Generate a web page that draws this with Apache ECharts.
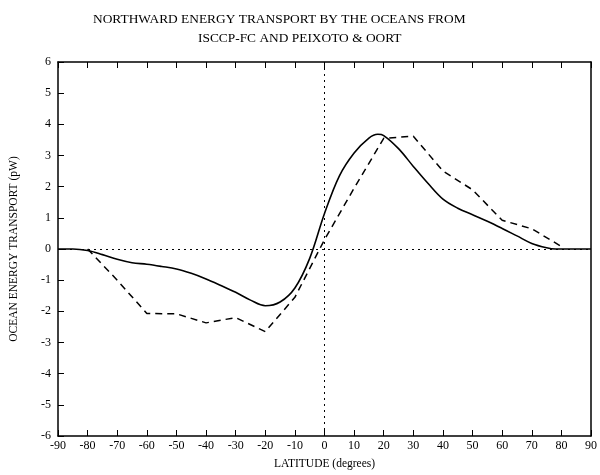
<!DOCTYPE html>
<html>
<head>
<meta charset="utf-8">
<script src="https://cdn.jsdelivr.net/npm/echarts@6/dist/echarts.min.js"></script>
<style>html,body{margin:0;padding:0;background:#fff}#c{width:600px;height:475px}</style>
</head>
<body>
<div id="c"></div>
<script>
// Data
var titleLine1 = 'NORTHWARD ENERGY TRANSPORT BY THE OCEANS FROM';
var titleLine2 = 'ISCCP-FC AND PEIXOTO & OORT';
var xName = 'LATITUDE (degrees)';
var yName = 'OCEAN ENERGY TRANSPORT (pW)';

// ISCCP-FC (solid)
var isccpLat = [-90, -85, -80, -75, -70, -65, -60, -55, -50, -45, -40, -35, -30, -25, -20, -15, -10, -5, 0, 5, 10, 15, 18, 20, 25, 30, 35, 40, 45, 50, 55, 60, 65, 70, 75, 78, 80, 85, 90];
var isccpVal = [0, 0, -0.05, -0.18, -0.33, -0.44, -0.49, -0.56, -0.64, -0.78, -0.96, -1.17, -1.39, -1.64, -1.82, -1.70, -1.25, -0.30, 1.14, 2.34, 3.08, 3.56, 3.68, 3.64, 3.22, 2.65, 2.10, 1.60, 1.31, 1.10, 0.89, 0.66, 0.42, 0.18, 0.04, 0, 0, 0, 0];

// Peixoto & Oort (dashed)
var poLat = [-80, -70, -60, -50, -40, -30, -20, -10, 0, 10, 20, 30, 40, 50, 60, 70, 80];
var poVal = [0, -1.0, -2.07, -2.08, -2.37, -2.2, -2.65, -1.55, 0.3, 1.95, 3.55, 3.62, 2.5, 1.9, 0.92, 0.65, 0.08];

function pairs(xs, ys) { return xs.map(function (x, i) { return [x, ys[i]]; }); }

var serif = '"Liberation Serif", "DejaVu Serif", serif';
var chart = echarts.init(document.getElementById('c'));
chart.setOption({
  animation: false,
  backgroundColor: '#fff',
  title: [
    { text: titleLine1, left: 88, top: 8, textStyle: { fontFamily: serif, fontWeight: 'normal', fontSize: 13.4, color: '#000' } },
    { text: titleLine2, left: 193, top: 27, textStyle: { fontFamily: serif, fontWeight: 'normal', fontSize: 13.4, color: '#000' } }
  ],
  grid: { left: 57, right: 3, top: 62, bottom: 34 },
  xAxis: [{
    type: 'value', min: -90, max: 90, interval: 10,
    name: xName, nameLocation: 'middle', nameGap: 22,
    nameTextStyle: { fontFamily: serif, fontSize: 11.5, color: '#000' },
    axisLine: { onZero: false, lineStyle: { color: '#000', width: 1.5 } },
    axisTick: { inside: true, length: 6, lineStyle: { color: '#000' } },
    axisLabel: { fontFamily: serif, fontSize: 12, color: '#000', margin: 4 },
    splitLine: { show: false }
  }, {
    type: 'value', position: 'top', min: -90, max: 90, interval: 10,
    axisLine: { onZero: false, lineStyle: { color: '#000', width: 1.5 } },
    axisTick: { inside: true, length: 6, lineStyle: { color: '#000' } },
    axisLabel: { show: false },
    splitLine: { show: false }
  }],
  yAxis: [{
    type: 'value', min: -6, max: 6, interval: 1,
    name: yName, nameLocation: 'middle', nameGap: 38, nameRotate: 90,
    nameTextStyle: { fontFamily: serif, fontSize: 11.5, color: '#000' },
    axisLine: { onZero: false, lineStyle: { color: '#000', width: 1.5 } },
    axisTick: { inside: true, length: 6, lineStyle: { color: '#000' } },
    axisLabel: { fontFamily: serif, fontSize: 12, color: '#000', margin: 7 },
    splitLine: { show: false }
  }, {
    type: 'value', position: 'right', min: -6, max: 6, interval: 1,
    axisLine: { show: true, onZero: false, lineStyle: { color: '#000', width: 1.5 } },
    axisTick: { show: false },
    axisLabel: { show: false },
    splitLine: { show: false }
  }],
  series: [{
    name: 'ISCCP-FC', type: 'line', data: pairs(isccpLat, isccpVal),
    smooth: 0.35, showSymbol: false,
    lineStyle: { color: '#000', width: 1.6 },
    markLine: {
      silent: true, symbol: 'none', label: { show: false },
      lineStyle: { color: '#000', type: [2, 4], width: 1 },
      data: [{ yAxis: 0 }, { xAxis: 0 }]
    }
  }, {
    name: 'Peixoto & Oort', type: 'line', data: pairs(poLat, poVal),
    showSymbol: false,
    lineStyle: { color: '#000', width: 1.5, type: [7, 5] }
  }]
});
</script>
</body>
</html>
